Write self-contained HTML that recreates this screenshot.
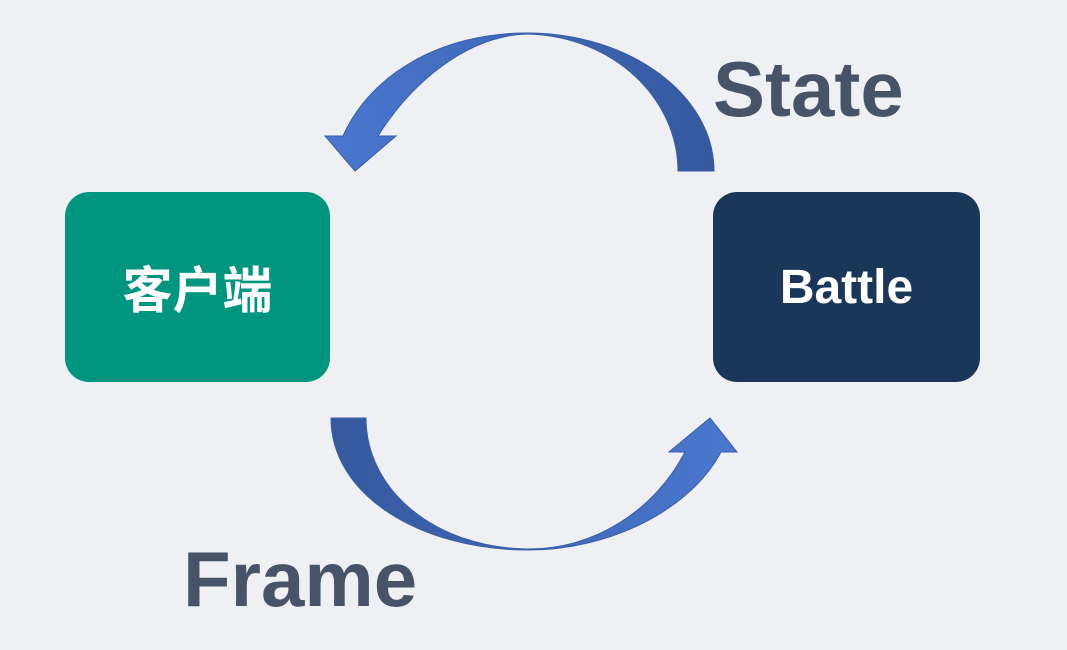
<!DOCTYPE html>
<html><head><meta charset="utf-8"><style>
html,body{margin:0;padding:0;}
body{width:1067px;height:650px;background:#eef0f3;position:relative;overflow:hidden;font-family:"Liberation Sans","Noto Sans CJK SC",sans-serif;}
.box{position:absolute;top:192px;height:190px;border-radius:24px;color:#fff;font-weight:bold;display:flex;align-items:center;justify-content:center;}
.lbl{position:absolute;color:#475467;font-weight:bold;font-size:78px;line-height:1;}
</style></head><body>
<svg width="1067" height="650" style="position:absolute;left:0;top:0">
<defs>
<linearGradient id="g1" x1="0" x2="1" y1="0" y2="0"><stop offset="0" stop-color="#4a78d0"/><stop offset="1" stop-color="#35589e"/></linearGradient>
<linearGradient id="g2" x1="0" x2="1" y1="0" y2="0"><stop offset="0" stop-color="#35589e"/><stop offset="1" stop-color="#4a78d0"/></linearGradient>
</defs>
<path d="M714,171 C714,95 630,33 527,33 C440,33 370,75 343,136 L325,136 L355,171 L396,136 L378,136 C410,85 465,36 527,34 C615,36 678,100 678,171 Z" fill="url(#g1)" stroke="#3a5da8" stroke-width="1"/>
<path d="M331,418 C331,495 420,550 528,550 C610,550 690,510 721,452 L737,452 L710,418 L669,452 L685,452 C655,510 595,549 528,549 C435,548 366,490 366,418 Z" fill="url(#g2)" stroke="#3a5da8" stroke-width="1"/>
</svg>
<div class="box" style="left:65px;width:265px;background:#00957f;font-size:50px;">客户端</div>
<div class="box" style="left:713px;width:267px;background:#1a3658;font-size:48px;">Battle</div>
<div class="lbl" style="left:713px;top:50px;">State</div>
<div class="lbl" style="left:183px;top:540px;">Frame</div>
</body></html>
